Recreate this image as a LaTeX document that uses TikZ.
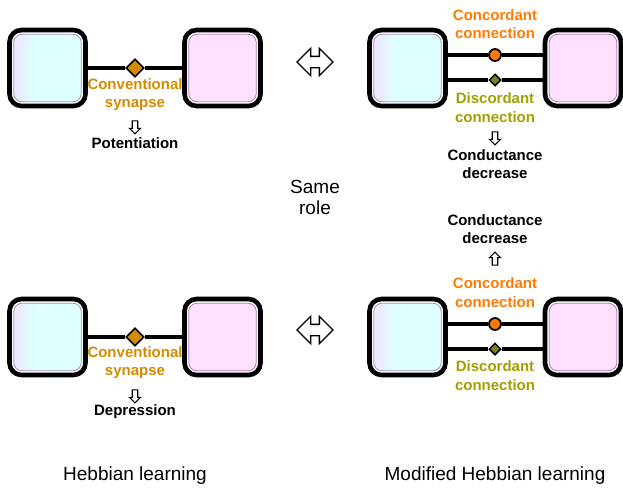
\documentclass[tikz,border=0pt]{standalone}
\usepackage{fontspec}
\setmainfont{Liberation Sans}
\usetikzlibrary{shapes.geometric,shapes.arrows}

\definecolor{prelav}{RGB}{242,226,255}
\definecolor{precyan}{RGB}{221,255,255}
\definecolor{preline}{RGB}{165,145,185}
\definecolor{postpink}{RGB}{255,224,255}
\definecolor{postline}{RGB}{175,125,175}
\definecolor{convgold}{RGB}{210,140,0}
\definecolor{concorange}{RGB}{255,122,0}
\definecolor{discolive}{RGB}{160,160,0}
\definecolor{discfill}{RGB}{128,128,32}

\pgfdeclarehorizontalshading{preshade}{100bp}{color(0bp)=(prelav); color(25bp)=(prelav); color(42bp)=(precyan); color(100bp)=(precyan)}

\begin{document}
\begin{tikzpicture}[x=1pt,y=-1pt]
  \tikzset{cell/.style = {draw=black, line width=4.6pt, rounded corners=12pt, fill=white, minimum size=76pt, inner sep=0pt}} % 노드 스타일 설정
  \tikzset{precell/.style = {cell, path picture={
      \shade[shading=preshade, rounded corners=8pt] ([shift={(4.3pt,4.3pt)}]path picture bounding box.south west) rectangle ([shift={(-4.3pt,-4.3pt)}]path picture bounding box.north east);
      \draw[preline, line width=0.8pt, rounded corners=8pt] ([shift={(4.3pt,4.3pt)}]path picture bounding box.south west) rectangle ([shift={(-4.3pt,-4.3pt)}]path picture bounding box.north east);}}}
  \tikzset{postcell/.style = {cell, path picture={
      \draw[postline, fill=postpink, line width=0.8pt, rounded corners=8pt] ([shift={(4.3pt,4.3pt)}]path picture bounding box.south west) rectangle ([shift={(-4.3pt,-4.3pt)}]path picture bounding box.north east);}}}
  \tikzset{link/.style = {line width=3.2pt}}
  \tikzset{conv/.style = {diamond, draw, line width=1.6pt, fill=convgold, minimum size=18pt, inner sep=0pt}}
  \tikzset{conc/.style = {circle, draw, line width=1.8pt, fill=concorange, minimum size=12pt, inner sep=0pt}}
  \tikzset{disc/.style = {diamond, draw, line width=1.5pt, fill=discfill, minimum size=12pt, inner sep=0pt}}
  \tikzset{label/.style = {align=center, font=\fontsize{15pt}{18.5pt}\selectfont\bfseries}}
  \tikzset{caption/.style = {align=center, font=\fontsize{19pt}{21pt}\selectfont}}
  \tikzset{downarrow/.style = {single arrow, draw, line width=1.1pt, fill=white, minimum height=13pt, inner sep=2.2pt, single arrow head extend=2.8pt, shape border rotate=270}}
  \tikzset{uparrow/.style = {downarrow, shape border rotate=90}}
  \tikzset{bothways/.style = {double arrow, draw, line width=1.3pt, fill=white, minimum height=36pt, inner sep=5pt, double arrow head extend=8pt}}

  \useasboundingbox (0,0) rectangle (623,491);

  % 헤비안 학습: 강화
  \node[precell] (preA) at (47.5,68) {};
  \node[postcell] (postA) at (222.5,68) {};
  \node[conv] (synA) at (135,68) {};
  \node[label, text=convgold] (convA) at (135,94.5) {Conventional\\synapse};
  \node[downarrow] (arrA) at (135,126) {};
  \node[label] (potA) at (135,143) {Potentiation};

  % 수정된 헤비안 학습: 위쪽
  \node[precell] (preB) at (407.5,68) {};
  \node[postcell] (postB) at (583,68) {};
  \node[conc] (conB) at (495,55) {};
  \node[disc] (disB) at (495,80) {};
  \node[label, text=concorange] (concB) at (495,24) {Concordant\\connection};
  \node[label, text=discolive] (discB) at (495,107.5) {Discordant\\connection};
  \node[downarrow] (arrB) at (495,137) {};
  \node[label] (decB) at (495,164) {Conductance\\decrease};

  % 헤비안 학습: 약화
  \node[precell] (preC) at (47.5,337) {};
  \node[postcell] (postC) at (222.5,337) {};
  \node[conv] (synC) at (135,337) {};
  \node[label, text=convgold] (convC) at (135,362.5) {Conventional\\synapse};
  \node[downarrow] (arrC) at (135,395) {};
  \node[label] (depC) at (135,412) {Depression};

  % 수정된 헤비안 학습: 아래쪽
  \node[precell] (preD) at (407.5,337) {};
  \node[postcell] (postD) at (583,337) {};
  \node[conc] (conD) at (495,324) {};
  \node[disc] (disD) at (495,349) {};
  \node[label, text=concorange] (concD) at (495,292.5) {Concordant\\connection};
  \node[label, text=discolive] (discD) at (495,375.5) {Discordant\\connection};
  \node[uparrow] (arrD) at (495,260) {};
  \node[label] (decD) at (495,229) {Conductance\\decrease};

  % 가운데 화살표와 설명
  \node[bothways] (eqTop) at (315,62) {};
  \node[bothways] (eqBot) at (315,330) {};
  \node[caption] (same) at (315,197.5) {Same\\role};
  \node[caption] (hebb) at (135,476) {Hebbian learning};
  \node[caption] (modhebb) at (495,476) {Modified Hebbian learning};

  % 연결선
  \draw[link] (preA) -- (synA);
  \draw[link] (synA) -- (postA);
  \draw[link] (preC) -- (synC);
  \draw[link] (synC) -- (postC);
  \draw[link] (preB.east |- conB) -- (conB);
  \draw[link] (conB) -- (postB.west |- conB);
  \draw[link] (preB.east |- disB) -- (disB);
  \draw[link] (disB) -- (postB.west |- disB);
  \draw[link] (preD.east |- conD) -- (conD);
  \draw[link] (conD) -- (postD.west |- conD);
  \draw[link] (preD.east |- disD) -- (disD);
  \draw[link] (disD) -- (postD.west |- disD);

\end{tikzpicture}
\end{document}
